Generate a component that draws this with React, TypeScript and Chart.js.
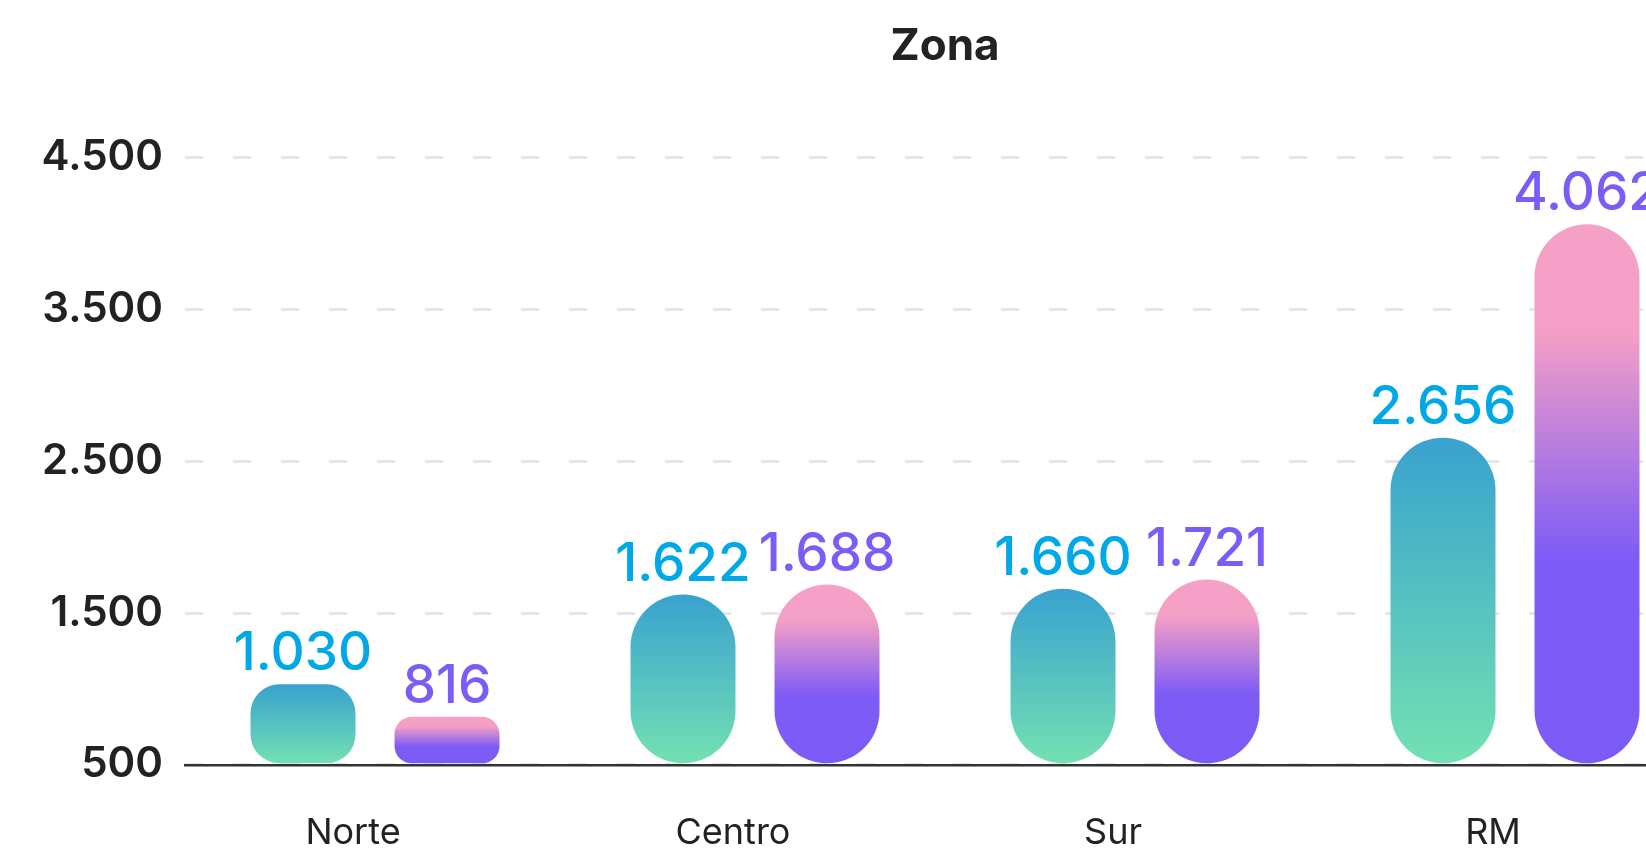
import { useEffect, useRef } from "react";
import { Chart, registerables } from "chart.js";

Chart.register(...registerables);

const title = "Zona";
const categories = ["Norte", "Centro", "Sur", "RM"];
const seriesA = [1030, 1622, 1660, 2656];
const seriesB = [816, 1688, 1721, 4062];
const yTicks = [500, 1500, 2500, 3500, 4500];

const labelColors = ["#00A8E8", "#7B5CF6"];
const gradA: [number, string][] = [
  [0, "#39A2CF"],
  [1, "#74E1B2"],
];
const gradB: [number, string][] = [
  [0, "#F5A0C6"],
  [0.2, "#F49FC6"],
  [0.62, "#7D5BF5"],
  [1, "#7C5AF6"],
];

const fmt = (v: number) =>
  String(Math.round(v)).replace(/\B(?=(\d{3})+(?!\d))/g, ".");

function barExtent(ctx: any) {
  const chart = ctx.chart;
  const y = chart.scales && chart.scales.y;
  if (ctx.type !== "data" || !y || !chart.chartArea) return null;
  const v = ctx.parsed && ctx.parsed.y != null ? ctx.parsed.y : ctx.raw;
  const top = y.getPixelForValue(v);
  const bottom = y.getPixelForValue(yTicks[0]);
  if (!isFinite(top) || !isFinite(bottom) || top === bottom) return null;
  return { top, bottom };
}

function barGradient(stops: [number, string][], fallback: string) {
  return (ctx: any) => {
    const ext = barExtent(ctx);
    if (!ext) return fallback;
    const g = ctx.chart.ctx.createLinearGradient(0, ext.top, 0, ext.bottom);
    stops.forEach(([o, c]) => g.addColorStop(o, c));
    return g;
  };
}

const barRadius = (ctx: any) => {
  const ext = barExtent(ctx);
  if (!ext) return 60;
  return Math.min(60, (ext.bottom - ext.top) * 0.36);
};

const valueLabels = {
  id: "valueLabels",
  afterDatasetsDraw(chart: any) {
    const { ctx } = chart;
    chart.data.datasets.forEach((ds: any, i: number) => {
      const meta = chart.getDatasetMeta(i);
      ctx.save();
      ctx.font = "500 53px Inter";
      ctx.fillStyle = labelColors[i];
      ctx.textAlign = "center";
      ctx.textBaseline = "alphabetic";
      meta.data.forEach((el: any, j: number) => {
        ctx.fillText(fmt(ds.data[j]), el.x, el.y - 14);
      });
      ctx.restore();
    });
  },
};

export default function App() {
  const ref = useRef<HTMLCanvasElement | null>(null);

  useEffect(() => {
    if (!ref.current) return;
    const common = {
      base: yTicks[0],
      borderRadius: barRadius,
      borderSkipped: false as const,
      categoryPercentage: 0.758,
      barPercentage: 0.729,
    };
    const chart = new Chart(ref.current, {
      type: "bar",
      data: {
        labels: categories,
        datasets: [
          {
            label: "A",
            data: seriesA,
            backgroundColor: barGradient(gradA, "#56C2C0"),
            ...common,
          },
          {
            label: "B",
            data: seriesB,
            backgroundColor: barGradient(gradB, "#9B7BF0"),
            ...common,
          },
        ],
      },
      options: {
        responsive: false,
        animation: false,
        layout: { padding: { left: 0, right: 10, top: 0, bottom: 0 } },
        plugins: {
          legend: { display: false },
          tooltip: { enabled: false },
          title: {
            display: true,
            text: title,
            fullSize: false,
            color: "#222222",
            font: { family: "Inter", size: 44, weight: "bold", lineHeight: 1.2 },
            padding: { top: 20, bottom: 85 },
          },
        },
        scales: {
          x: {
            grid: { display: false, drawTicks: false },
            border: { display: true, color: "#333333", width: 2.5 },
            ticks: {
              color: "#222222",
              font: { family: "Inter", size: 36 },
              padding: 47,
              labelOffset: -22,
            },
          },
          y: {
            min: yTicks[0],
            max: yTicks[yTicks.length - 1],
            afterBuildTicks: (s: any) => {
              s.ticks = yTicks.map((v) => ({ value: v }));
            },
            afterFit: (s: any) => {
              s.width = 185;
            },
            grid: { color: "#E6E6E6", lineWidth: 3, drawTicks: false },
            border: { display: false, dash: [18, 30] },
            ticks: {
              color: "#222222",
              font: { family: "Inter", size: 42, weight: 600 },
              padding: 22,
              callback: (v: any) => fmt(Number(v)),
            },
          },
        },
      },
      plugins: [valueLabels],
    });
    return () => chart.destroy();
  }, []);

  return (
    <div
      style={{
        position: "fixed",
        left: 0,
        top: 0,
        width: 1646,
        height: 864,
        overflow: "hidden",
        background: "#ffffff",
      }}
    >
      <canvas ref={ref} width={1715} height={902} style={{ display: "block" }} />
    </div>
  );
}
